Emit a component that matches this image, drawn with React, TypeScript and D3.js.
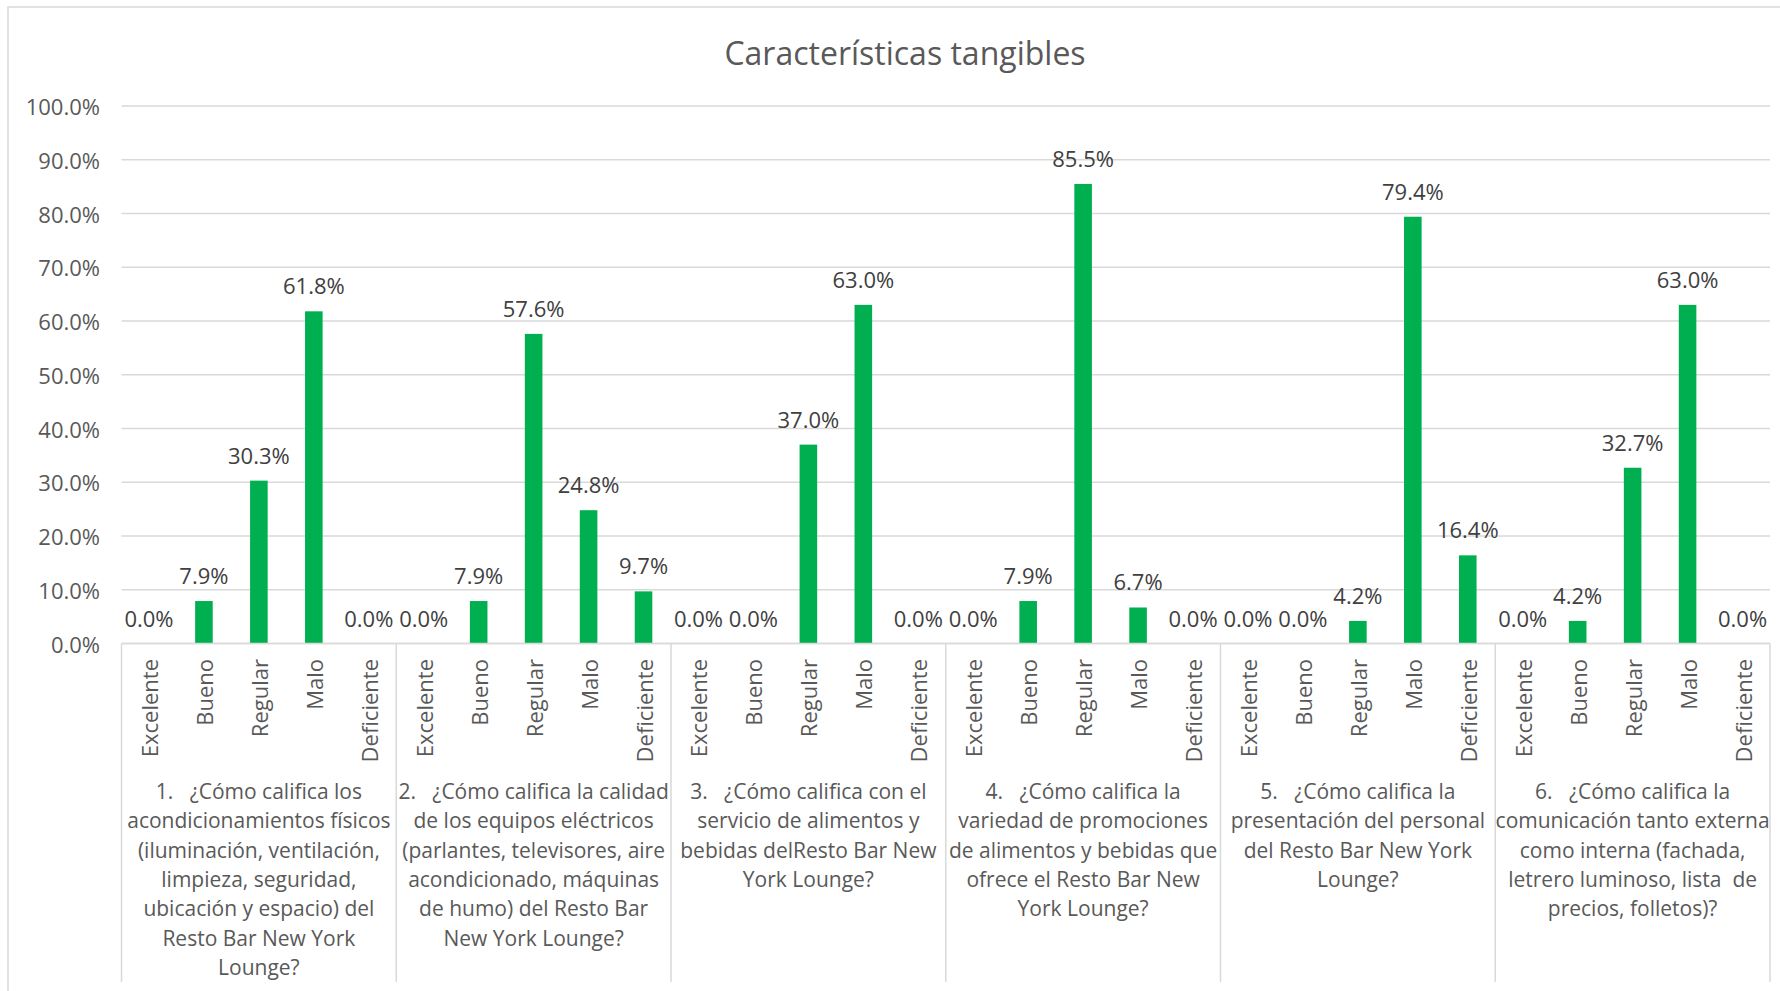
import React from "react";
import * as d3 from "d3";

// Rating categories shown under every question
const ratings = ["Excelente", "Bueno", "Regular", "Malo", "Deficiente"];

// Question labels, already broken into lines
const questionLines: string[][] = [
  ["1.   ¿Cómo califica los", "acondicionamientos físicos", "(iluminación, ventilación,", "limpieza, seguridad,", "ubicación y espacio) del", "Resto Bar New York", "Lounge?"],
  ["2.   ¿Cómo califica la calidad", "de los equipos eléctricos", "(parlantes, televisores, aire", "acondicionado, máquinas", "de humo) del Resto Bar", "New York Lounge?"],
  ["3.   ¿Cómo califica con el", "servicio de alimentos y", "bebidas delResto Bar New", "York Lounge?"],
  ["4.   ¿Cómo califica la", "variedad de promociones", "de alimentos y bebidas que", "ofrece el Resto Bar New", "York Lounge?"],
  ["5.   ¿Cómo califica la", "presentación del personal", "del Resto Bar New York", "Lounge?"],
  ["6.   ¿Cómo califica la", "comunicación tanto externa", "como interna (fachada,", "letrero luminoso, lista  de", "precios, folletos)?"],
];

// Percentages per question (Excelente, Bueno, Regular, Malo, Deficiente)
const q1 = [0.0, 7.9, 30.3, 61.8, 0.0];
const q2 = [0.0, 7.9, 57.6, 24.8, 9.7];
const q3 = [0.0, 0.0, 37.0, 63.0, 0.0];
const q4 = [0.0, 7.9, 85.5, 6.7, 0.0];
const q5 = [0.0, 0.0, 4.2, 79.4, 16.4];
const q6 = [0.0, 4.2, 32.7, 63.0, 0.0];
const series = [q1, q2, q3, q4, q5, q6];

const yTicks = [0, 10, 20, 30, 40, 50, 60, 70, 80, 90, 100];

const title = "Características tangibles";

const W = 1780;
const H = 991;
const plot = { left: 121.5, right: 1770, top: 106, bottom: 643.5 };
const axisBottom = 982;

const FONT = "'Open Sans', 'Noto Sans', sans-serif";
const TEXT = "#595959";
const GRID = "#D9D9D9";
const BAR = "#00B050";

const fmt = (v: number) => d3.format(".1f")(v) + "%";

export default function App() {
  const groupIds = questionLines.map((_, i) => String(i));
  const x0 = d3.scaleBand().domain(groupIds).range([plot.left, plot.right]).paddingInner(0).paddingOuter(0);
  const x1 = d3
    .scaleBand()
    .domain(ratings)
    .range([0, x0.bandwidth()])
    .paddingInner(0.68)
    .paddingOuter(0.34);
  const y = d3.scaleLinear().domain([0, 100]).range([plot.bottom, plot.top]);

  const step = x1.step();

  return (
    <svg
      width={W}
      height={H}
      viewBox={`0 0 ${W} ${H}`}
      style={{ position: "absolute", left: 0, top: 0, display: "block", background: "#fff" }}
    >
      {/* outer chart frame */}
      <rect x={8} y={7} width={W + 20} height={H + 20} fill="#fff" stroke={GRID} strokeWidth={1.5} />

      {/* title */}
      <text x={905} y={52} textAnchor="middle" dominantBaseline="central" fontFamily={FONT} fontSize={32} fill={TEXT}>
        {title}
      </text>

      {/* gridlines and y tick labels */}
      {yTicks.map((t) => (
        <g key={t}>
          <line x1={plot.left} x2={plot.right} y1={y(t)} y2={y(t)} stroke={GRID} strokeWidth={1.5} />
          <text
            x={100}
            y={y(t)}
            textAnchor="end"
            dominantBaseline="central"
            fontFamily={FONT}
            fontSize={22}
            fill={TEXT}
          >
            {fmt(t)}
          </text>
        </g>
      ))}

      {/* group separators below the axis */}
      {[...groupIds.map((g) => x0(g)!), plot.right].map((xv, i) => (
        <line key={i} x1={xv} x2={xv} y1={plot.bottom} y2={axisBottom} stroke={GRID} strokeWidth={1.5} />
      ))}

      {series.map((vals, gi) => {
        const gx = x0(String(gi))!;
        return (
          <g key={gi}>
            {vals.map((v, ri) => {
              const bx = gx + x1(ratings[ri])!;
              const cx = gx + step * (ri + 0.5);
              return (
                <g key={ri}>
                  {v > 0 && (
                    <rect x={bx} y={y(v)} width={x1.bandwidth()} height={y(0) - y(v)} fill={BAR} />
                  )}
                  <text
                    x={cx}
                    y={y(v) - 26}
                    textAnchor="middle"
                    dominantBaseline="central"
                    fontFamily={FONT}
                    fontSize={22}
                    fill="#404040"
                  >
                    {fmt(v)}
                  </text>
                  <text
                    transform={`translate(${cx},659) rotate(-90)`}
                    textAnchor="end"
                    dominantBaseline="central"
                    fontFamily={FONT}
                    fontSize={22}
                    fill={TEXT}
                  >
                    {ratings[ri]}
                  </text>
                </g>
              );
            })}
            <text
              fontFamily={FONT}
              fontSize={21}
              fill={TEXT}
              textAnchor="middle"
              style={{ whiteSpace: "pre" }}
            >
              {questionLines[gi].map((line, li) => (
                <tspan key={li} x={gx + x0.bandwidth() / 2} y={791 + li * 29.3} dominantBaseline="central">
                  {line}
                </tspan>
              ))}
            </text>
          </g>
        );
      })}

      {/* baseline */}
      <line x1={plot.left} x2={plot.right} y1={plot.bottom} y2={plot.bottom} stroke={GRID} strokeWidth={1.5} />
    </svg>
  );
}
